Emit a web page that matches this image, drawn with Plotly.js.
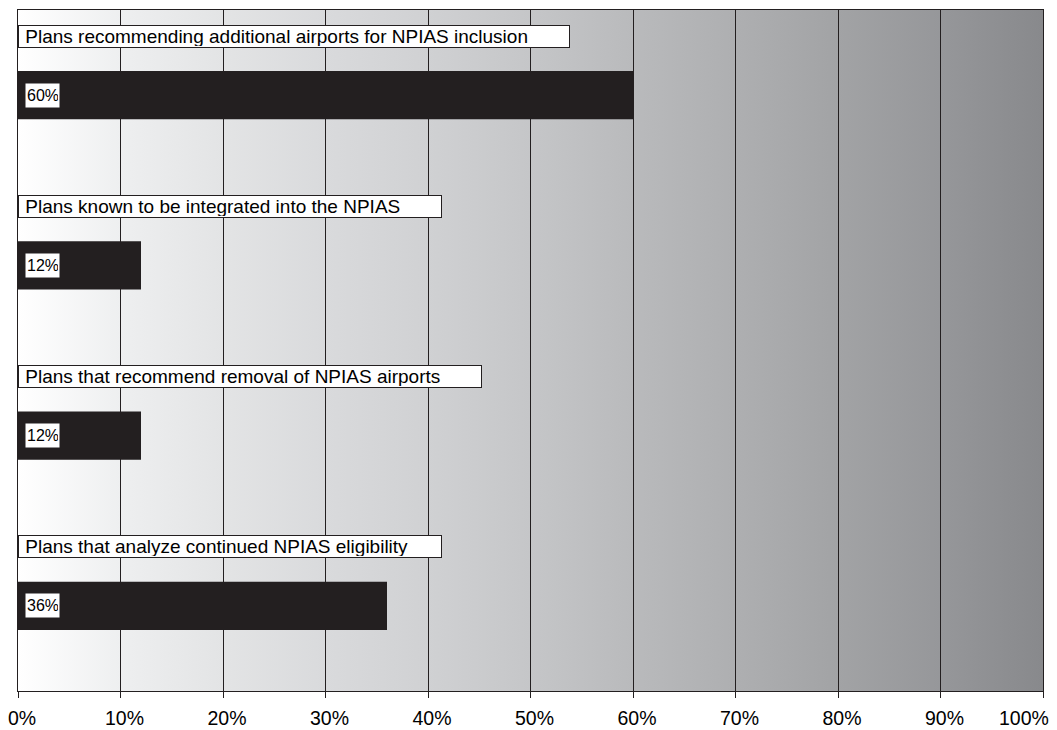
<!DOCTYPE html>
<html>
<head>
<meta charset="utf-8">
<script src="https://cdn.plot.ly/plotly-3.0.1.min.js"></script>
<style>
  html, body { margin: 0; padding: 0; background: #ffffff; }
  #chart { width: 1057px; height: 730px; }
</style>
</head>
<body>
<div id="chart"></div>
<script>
// Survey results: share of state system plans addressing NPIAS topics
const categories = [
  "Plans recommending additional airports for NPIAS inclusion",
  "Plans known to be integrated into the NPIAS",
  "Plans that recommend removal of NPIAS airports",
  "Plans that analyze continued NPIAS eligibility"
];
const percentValues = [60, 12, 12, 36];
const tickValues = [0, 10, 20, 30, 40, 50, 60, 70, 80, 90, 100];
const tickLabels = ["0%", "10%", "20%", "30%", "40%", "50%", "60%", "70%", "80%", "90%", "100%"];

const ink = "#231f20";
const fontFamily = "Liberation Sans, Arial, Helvetica, sans-serif";
const NBSP = "\u00a0";

// Fixed widths (px) of the caption text boxes above each bar
const captionBoxWidths = [551, 423, 463, 423];

// Horizontal background shading, light on the left and darker on the right
const shadeStops = [
  [0.00, "#ffffff"], [0.10, "#eeeff0"], [0.20, "#e3e4e5"], [0.30, "#d9dadc"],
  [0.40, "#d0d1d3"], [0.50, "#c5c6c8"], [0.60, "#b9babc"], [0.70, "#aeafb1"],
  [0.80, "#a2a3a5"], [0.90, "#96979a"], [1.00, "#88898c"]
];
const svgStops = shadeStops.map(s =>
  '<stop offset="' + s[0] + '" stop-color="' + s[1] + '"/>').join("");
const shadeSvg = '<svg xmlns="http://www.w3.org/2000/svg" width="400" height="10" preserveAspectRatio="none">' +
  '<defs><linearGradient id="g" x1="0" y1="0" x2="1" y2="0">' + svgStops +
  '</linearGradient></defs><rect width="400" height="10" fill="url(#g)"/></svg>';
const shadeSrc = "data:image/svg+xml;charset=utf-8," + encodeURIComponent(shadeSvg);

const yPos = categories.map((_, i) => i);

const bars = {
  type: "bar",
  orientation: "h",
  x: percentValues,
  y: yPos,
  width: 0.282,
  marker: { color: ink, line: { width: 0 } },
  hoverinfo: "skip",
  showlegend: false
};

const annotations = [];
categories.forEach((name, i) => {
  // caption box above the bar
  annotations.push({
    x: 0, y: i - 0.347, xref: "x", yref: "y",
    xanchor: "left", yanchor: "middle",
    text: NBSP + name, showarrow: false, align: "left",
    width: captionBoxWidths[i] - 3, height: 19,
    font: { family: fontFamily, size: 19, color: "#000000" },
    bgcolor: "#ffffff", bordercolor: ink, borderwidth: 1, borderpad: 1
  });
  // value tag inside the bar
  annotations.push({
    x: 0, y: i, xref: "x", yref: "y",
    xanchor: "left", yanchor: "middle", xshift: 7,
    text: percentValues[i] + "%", showarrow: false, align: "left",
    width: 31, height: 21,
    font: { family: fontFamily, size: 16, color: "#000000" },
    bgcolor: "#ffffff", borderpad: 1
  });
});

// last tick label sits pulled in from the right edge
const lastTick = tickLabels.length - 1;
const axisTickText = tickLabels.map((t, i) => (i === lastTick ? "" : t));
annotations.push({
  x: tickValues[lastTick], y: 0, xref: "x", yref: "paper",
  xanchor: "right", yanchor: "top", xshift: 8, yshift: -14,
  text: tickLabels[lastTick], showarrow: false,
  font: { family: fontFamily, size: 19.5, color: "#000000" }
});

const layout = {
  width: 1057,
  height: 730,
  margin: { l: 18, r: 14, t: 10, b: 39, pad: 0 },
  paper_bgcolor: "#ffffff",
  plot_bgcolor: "rgba(0,0,0,0)",
  showlegend: false,
  xaxis: {
    range: [0, 100],
    tickvals: tickValues,
    ticktext: axisTickText,
    ticks: "outside",
    ticklen: 6,
    tickcolor: ink,
    tickwidth: 1,
    ticklabelshift: 4,
    ticklabelstandoff: 4,
    showgrid: true,
    gridcolor: ink,
    gridwidth: 1,
    showline: true,
    linecolor: ink,
    linewidth: 1,
    mirror: true,
    zeroline: false,
    tickfont: { family: fontFamily, size: 19.5, color: "#000000" },
    fixedrange: true
  },
  yaxis: {
    range: [3.5, -0.5],
    showticklabels: false,
    ticks: "",
    showgrid: false,
    zeroline: false,
    showline: true,
    linecolor: ink,
    linewidth: 1,
    mirror: true,
    fixedrange: true
  },
  images: [{
    source: shadeSrc,
    xref: "x", yref: "y",
    x: 0, y: -0.5,
    sizex: 100, sizey: 4,
    xanchor: "left", yanchor: "top",
    sizing: "stretch",
    layer: "below"
  }],
  annotations: annotations
};

Plotly.newPlot("chart", [bars], layout, { displayModeBar: false, staticPlot: true });
</script>
</body>
</html>
